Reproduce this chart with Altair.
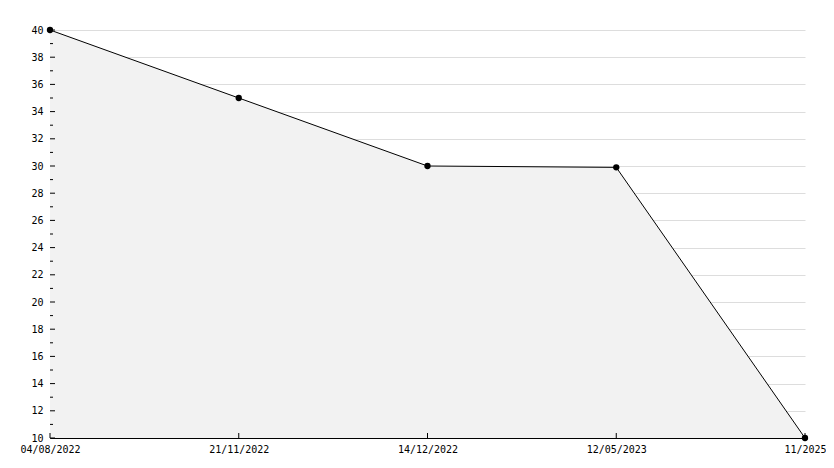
import altair as alt
import pandas as pd

dates = ["04/08/2022", "21/11/2022", "14/12/2022", "12/05/2023", "11/2025"]
values = [40, 35, 30, 29.9, 10]
major_ticks = list(range(10, 41, 2))
minor_ticks = list(range(11, 40, 2))

W, H = 755, 408
FONT = "DejaVu Sans Mono"

df = pd.DataFrame({"date": dates, "value": values})
df_major = pd.DataFrame({"value": major_ticks})
df_minor = pd.DataFrame({"value": minor_ticks})
df_x = pd.DataFrame({"date": dates})

xscale = alt.Scale(type="point", padding=0, domain=dates)
yscale = alt.Scale(domain=[10, 40], zero=False, nice=False)
xaxis = alt.Axis(title=None, labelAngle=0, ticks=False, grid=False,
                 labelPadding=6, domainColor="black")
yaxis = alt.Axis(title=None, values=major_ticks, ticks=False, grid=True,
                 gridColor="#dddddd", labelPadding=7, domainColor="black")


def X():
    return alt.X("date:N", sort=dates, scale=xscale, axis=xaxis)


def Y():
    return alt.Y("value:Q", scale=yscale, axis=yaxis)


area = alt.Chart(df).mark_area(color="#f2f2f2", opacity=1).encode(
    x=X(), y=Y(), y2=alt.datum(10)
)
line = alt.Chart(df).mark_line(color="black", strokeWidth=1).encode(x=X(), y=Y())
pts = alt.Chart(df).mark_point(filled=True, color="black", size=40, opacity=1).encode(
    x=X(), y=Y()
)
ymaj = alt.Chart(df_major).mark_rule(color="black", strokeWidth=1).encode(
    y=Y(), x=alt.value(0), x2=alt.value(5),
)
ymin = alt.Chart(df_minor).mark_rule(color="black", strokeWidth=1).encode(
    y=Y(), x=alt.value(0), x2=alt.value(3),
)
xt = alt.Chart(df_x).mark_rule(color="black", strokeWidth=1).encode(
    x=X(), y=alt.value(H), y2=alt.value(H - 5),
)

chart = alt.layer(area, ymaj, ymin, xt, line, pts).properties(
    width=W, height=H,
    autosize=alt.AutoSizeParams(type="none"),
    padding={"left": 42, "top": 22, "right": 21, "bottom": 22},
).configure_view(strokeWidth=0).configure_axis(
    labelFont=FONT, labelFontSize=10, labelColor="black", domainWidth=1
)

chart.save("out.html", embed_options={"renderer": "svg", "actions": False})
